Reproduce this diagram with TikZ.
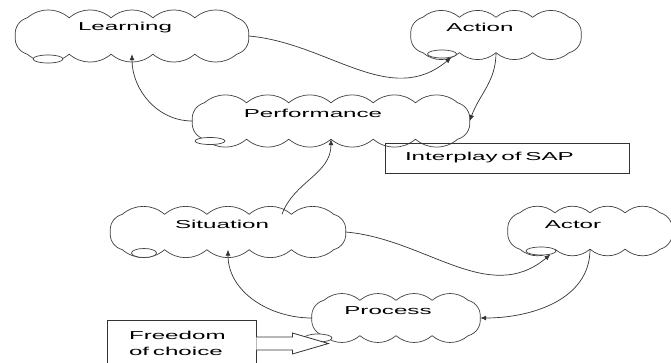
\documentclass[tikz,border=0pt]{standalone}
\usepackage{fontspec}
\setmainfont{Liberation Sans}[FakeStretch=2.1]
\usetikzlibrary{shapes.geometric,arrows.meta,calc}
\tikzset{
  thought/.style={rectangle, inner sep=0pt},
  cloudline/.style={draw=black!75, fill=white, line width=0.7pt},
  puff/.style={ellipse, draw=black!75, fill=white, line width=0.7pt, inner sep=0pt},
  lbl/.style={anchor=base, inner sep=0pt},
  note/.style={draw=black!80, line width=0.8pt, align=left, inner ysep=0pt},
  link/.style={draw=black!80, line width=0.7pt, -{Latex[length=6pt,width=5pt]}},
}
% cloud outline round a named node, #2 puffs along top and bottom
\newcommand\puffy[2]{%
  \draw[cloudline] ([xshift=12pt]#1.north west)
    \foreach \i in {1,...,#2} {to[bend left=40] ($([xshift=12pt]#1.north west)!\i/#2!([xshift=-12pt]#1.north east)$)}
    to[bend left=40] (#1.east) to[bend left=40] ([xshift=-12pt]#1.south east)
    \foreach \i in {1,...,#2} {to[bend left=40] ($([xshift=-12pt]#1.south east)!\i/#2!([xshift=12pt]#1.south west)$)}
    to[bend left=40] (#1.west) to[bend left=40] ([xshift=12pt]#1.north west);
}

\begin{document}
\begin{tikzpicture}[x=1pt,y=1pt,font=\fontsize{11.5}{16}\selectfont]
\clip (0,0) rectangle (671,362);
% clouds
\node[thought, minimum width=233pt, minimum height=36pt] (learn) at (132,326) {};
\node[thought, minimum width=170pt, minimum height=35pt] (action) at (496,327) {};
\node[thought, minimum width=277pt, minimum height=36pt] (perf) at (331,241) {};
\node[thought, minimum width=235pt, minimum height=35pt] (situ) at (228,130) {};
\node[thought, minimum width=164pt, minimum height=36pt] (actor) at (590,131) {};
\node[thought, minimum width=168pt, minimum height=35pt] (proc) at (396,44) {};
\puffy{learn}{5} \puffy{action}{4} \puffy{perf}{6}
\puffy{situ}{5} \puffy{actor}{4} \puffy{proc}{4}
% little puffs
\node[puff, minimum width=30pt, minimum height=8pt] (learn-p) at (48,303) {};
\node[puff, minimum width=29pt, minimum height=8pt] (action-p) at (442,308) {};
\node[puff, minimum width=30pt, minimum height=7pt] (perf-p) at (210,221) {};
\node[puff, minimum width=25pt, minimum height=9pt] (situ-p) at (144,109) {};
\node[puff, minimum width=30pt, minimum height=8pt] (actor-p) at (541,111) {};
\node[puff, minimum width=28pt, minimum height=8pt] (proc-p) at (318,24) {};
% texts
\node[lbl] (learn-t) at (125,331) {Learning};
\node[lbl] (action-t) at (480,330) {Action};
\node[lbl] (perf-t) at (313,244) {Performance};
\node[lbl] (situ-t) at (222,134) {Situation};
\node[lbl] (actor-t) at (573,134) {Actor};
\node[lbl] (proc-t) at (388,48) {Process};
% boxes
\node[note, text width=204pt, inner xsep=20pt, minimum height=30pt] (sap) at (507,204) {Interplay of SAP};
\node[note, text width=105pt, inner xsep=22pt, minimum height=46pt] (free) at (181.5,18.5) {Freedom\\of choice};
% links
\draw[link] (learn.east) to[out=-5,in=-140] (action-p.-20);
\draw[link] (action.south) to[out=-90,in=70] (perf.east);
\draw[link] (perf.west) to[out=180,in=-90] (learn.south);
\draw[link] ([xshift=54pt]situ.north) to[out=70,in=-90] (perf.south);
\draw[link] (situ.east) to[out=-5,in=-140] (actor-p.-20);
\draw[link] (actor.south) to[out=-90,in=0] (proc.east);
\draw[link] (proc.west) to[out=180,in=-90] (situ.south);
% block arrow
\draw[draw=black!80, line width=0.8pt, fill=white] ([yshift=6.5pt]free.east) -- ++(36,0) -- ++(0,4)
  -- ++(36,-10.5) -- ++(-36,-10.5) -- ++(0,4) -- ++(-36,0);
\end{tikzpicture}
\end{document}
